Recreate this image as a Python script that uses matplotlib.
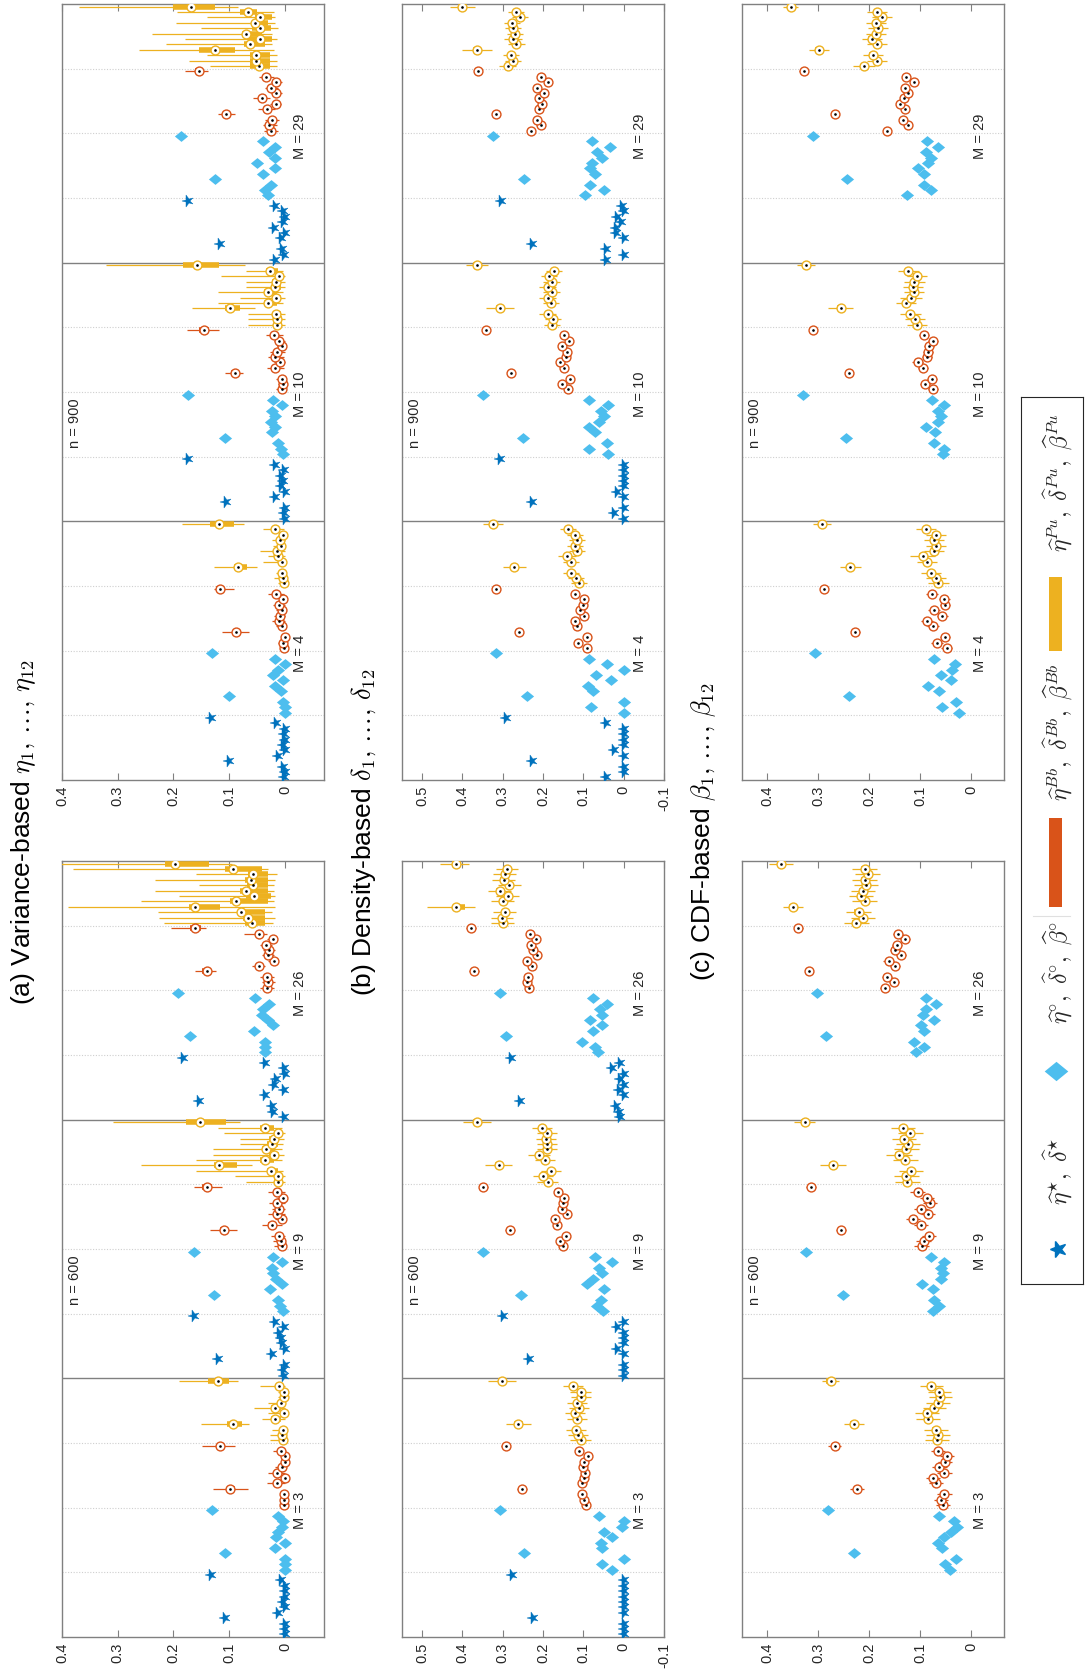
import numpy as np
import matplotlib
matplotlib.use('Agg')
import matplotlib.pyplot as plt
from matplotlib.markers import MarkerStyle
from matplotlib.path import Path
from matplotlib.transforms import Affine2D, blended_transform_factory
from matplotlib.patches import Rectangle

plt.rcParams['font.family'] = ['Liberation Sans', 'DejaVu Sans']
plt.rcParams['mathtext.fontset'] = 'cm'

# ---------------------------------------------------------------- data
# each panel: 12 items per estimator group; boxplot entries are
# (median, q1, q3, whisker_lo, whisker_hi) or (median, box_half, whisker_half)

# ---- (a) variance based, n = 600
var600_m3_star = [0.0, 0.0, 0.0, 0.108, 0.012, 0.0, 0.004, 0.0, 0.0, 0.0, 0.007, 0.132]
var600_m3_dia = [0.0, 0.0, 0.0, 0.108, 0.018, 0.0, 0.016, 0.012, 0.006, 0.003, 0.012, 0.131]
var600_m3_bb = [(0.001, 0.0, 0.003, 0.0, 0.006), (0.001, 0.0, 0.003, 0.0, 0.006), (0.001, 0.0, 0.003, 0.0, 0.006),
                (0.098, 0.090, 0.104, 0.066, 0.130), (0.015, 0.008, 0.020, 0.0, 0.032), (0.000, 0.0, 0.002, 0.0, 0.005),
                (0.015, 0.008, 0.020, 0.0, 0.030), (0.006, 0.002, 0.010, 0.0, 0.018), (0.000, 0.0, 0.002, 0.0, 0.005),
                (0.000, 0.0, 0.002, 0.0, 0.005), (0.008, 0.003, 0.012, 0.0, 0.021), (0.117, 0.110, 0.122, 0.090, 0.148)]
var600_m3_pu = [(0.004, 0.001, 0.008, 0.0, 0.027), (0.005, 0.001, 0.009, 0.0, 0.027), (0.004, 0.001, 0.008, 0.0, 0.024),
                (0.093, 0.077, 0.104, 0.065, 0.150), (0.018, 0.008, 0.025, 0.0, 0.042), (0.002, 0.0, 0.006, 0.0, 0.030),
                (0.018, 0.008, 0.025, 0.0, 0.055), (0.008, 0.002, 0.012, 0.0, 0.030), (0.001, 0.0, 0.004, 0.0, 0.012),
                (0.002, 0.0, 0.005, 0.0, 0.012), (0.011, 0.004, 0.016, 0.0, 0.044), (0.121, 0.101, 0.138, 0.084, 0.190)]

var600_m9_star = [0.001, 0.004, 0.0, 0.121, 0.024, 0.0, 0.006, 0.008, 0.011, 0.001, 0.018, 0.163]
var600_m9_dia = [0.003, 0.009, 0.012, 0.127, 0.027, 0.006, 0.017, 0.021, 0.024, 0.006, 0.021, 0.163]
var600_m9_bb = [(0.006, 0.002, 0.010, 0.0, 0.020), (0.008, 0.003, 0.012, 0.0, 0.022), (0.010, 0.004, 0.014, 0.0, 0.025),
                (0.110, 0.102, 0.116, 0.086, 0.134), (0.024, 0.016, 0.030, 0.005, 0.042), (0.006, 0.002, 0.010, 0.0, 0.018),
                (0.015, 0.008, 0.020, 0.0, 0.030), (0.010, 0.004, 0.014, 0.0, 0.024), (0.014, 0.007, 0.018, 0.0, 0.028),
                (0.004, 0.001, 0.008, 0.0, 0.014), (0.015, 0.008, 0.020, 0.0, 0.030), (0.140, 0.131, 0.148, 0.113, 0.164)]
var600_m9_pu = [(0.013, 0.005, 0.020, 0.0, 0.070), (0.012, 0.005, 0.020, 0.0, 0.090), (0.025, 0.012, 0.033, 0.003, 0.160),
                (0.119, 0.086, 0.128, 0.060, 0.259), (0.036, 0.020, 0.045, 0.005, 0.160), (0.019, 0.010, 0.028, 0.002, 0.130),
                (0.034, 0.018, 0.042, 0.005, 0.130), (0.024, 0.012, 0.032, 0.003, 0.080), (0.020, 0.010, 0.028, 0.002, 0.080),
                (0.013, 0.006, 0.020, 0.0, 0.110), (0.035, 0.020, 0.045, 0.005, 0.120), (0.152, 0.106, 0.177, 0.080, 0.309)]

var600_m26_star = [0.002, 0.021, 0.023, 0.154, 0.036, 0.002, 0.020, 0.017, 0.000, 0.001, 0.036, 0.183]
var600_m26_dia = [0.035, 0.036, 0.035, 0.170, 0.056, 0.021, 0.030, 0.042, 0.039, 0.029, 0.054, 0.192]
var600_m26_bb = [(0.032, 0.028, 0.036, 0.020, 0.045), (0.030, 0.026, 0.034, 0.018, 0.042), (0.032, 0.028, 0.036, 0.020, 0.045),
                 (0.140, 0.132, 0.148, 0.124, 0.162), (0.046, 0.042, 0.050, 0.035, 0.060), (0.020, 0.017, 0.024, 0.012, 0.030),
                 (0.030, 0.026, 0.034, 0.020, 0.042), (0.029, 0.025, 0.033, 0.018, 0.040), (0.034, 0.030, 0.038, 0.024, 0.045),
                 (0.022, 0.019, 0.026, 0.014, 0.032), (0.046, 0.040, 0.052, 0.032, 0.073), (0.161, 0.150, 0.170, 0.142, 0.204)]
var600_m26_pu = [(0.060, 0.035, 0.071, 0.021, 0.217), (0.067, 0.035, 0.075, 0.018, 0.226), (0.079, 0.035, 0.082, 0.024, 0.228),
                 (0.162, 0.116, 0.173, 0.018, 0.390), (0.088, 0.030, 0.098, 0.020, 0.259), (0.055, 0.025, 0.070, 0.018, 0.190),
                 (0.070, 0.030, 0.080, 0.020, 0.234), (0.058, 0.030, 0.068, 0.020, 0.155), (0.061, 0.030, 0.072, 0.018, 0.234),
                 (0.057, 0.030, 0.066, 0.015, 0.160), (0.093, 0.042, 0.107, 0.030, 0.381), (0.198, 0.137, 0.215, 0.095, 0.450)]

# ---- (a) variance based, n = 900
var900_m4_star = [0.001, 0.0, 0.004, 0.101, 0.012, 0.0, 0.003, 0.0, 0.001, 0.0, 0.017, 0.132]
var900_m4_dia = [0.0, 0.0, 0.004, 0.100, 0.008, 0.018, 0.004, 0.021, 0.012, 0.0, 0.018, 0.131]
var900_m4_bb = [(0.001, 0.0, 0.003, 0.0, 0.008), (0.003, 0.0, 0.006, 0.0, 0.012), (0.000, 0.0, 0.002, 0.0, 0.006),
                (0.088, 0.082, 0.094, 0.065, 0.113), (0.006, 0.002, 0.010, 0.0, 0.016), (0.011, 0.005, 0.015, 0.0, 0.024),
                (0.009, 0.004, 0.013, 0.0, 0.020), (0.006, 0.002, 0.010, 0.0, 0.016), (0.011, 0.005, 0.015, 0.0, 0.022),
                (0.003, 0.0, 0.006, 0.0, 0.010), (0.017, 0.010, 0.022, 0.002, 0.030), (0.117, 0.110, 0.124, 0.092, 0.128)]
var900_m4_pu = [(0.002, 0.0, 0.005, 0.0, 0.012), (0.004, 0.001, 0.008, 0.0, 0.020), (0.005, 0.001, 0.009, 0.0, 0.016),
                (0.085, 0.069, 0.092, 0.051, 0.128), (0.006, 0.002, 0.010, 0.0, 0.040), (0.012, 0.005, 0.017, 0.0, 0.030),
                (0.015, 0.007, 0.020, 0.0, 0.045), (0.007, 0.002, 0.011, 0.0, 0.022), (0.009, 0.003, 0.013, 0.0, 0.024),
                (0.003, 0.0, 0.006, 0.0, 0.012), (0.018, 0.010, 0.024, 0.002, 0.040), (0.119, 0.092, 0.134, 0.074, 0.184)]

var900_m10_star = [0.0, 0.001, 0.0, 0.105, 0.018, 0.0, 0.008, 0.003, 0.008, 0.001, 0.018, 0.174]
var900_m10_dia = [0.004, 0.008, 0.013, 0.108, 0.024, 0.018, 0.025, 0.018, 0.024, 0.006, 0.021, 0.174]
var900_m10_bb = [(0.006, 0.002, 0.010, 0.0, 0.016), (0.004, 0.001, 0.008, 0.0, 0.012), (0.006, 0.002, 0.010, 0.0, 0.016),
                 (0.090, 0.084, 0.097, 0.076, 0.107), (0.018, 0.011, 0.023, 0.002, 0.032), (0.009, 0.004, 0.013, 0.0, 0.020),
                 (0.018, 0.011, 0.023, 0.002, 0.030), (0.015, 0.009, 0.020, 0.0, 0.026), (0.006, 0.002, 0.010, 0.0, 0.015),
                 (0.010, 0.004, 0.014, 0.0, 0.020), (0.019, 0.012, 0.024, 0.003, 0.034), (0.146, 0.137, 0.155, 0.119, 0.176)]
var900_m10_pu = [(0.014, 0.006, 0.020, 0.0, 0.067), (0.015, 0.006, 0.021, 0.0, 0.067), (0.016, 0.007, 0.022, 0.0, 0.067),
                 (0.098, 0.080, 0.107, 0.054, 0.167), (0.031, 0.015, 0.038, 0.004, 0.120), (0.017, 0.008, 0.023, 0.0, 0.080),
                 (0.031, 0.015, 0.038, 0.004, 0.120), (0.018, 0.008, 0.024, 0.0, 0.070), (0.017, 0.008, 0.023, 0.0, 0.070),
                 (0.011, 0.004, 0.017, 0.0, 0.115), (0.027, 0.013, 0.034, 0.003, 0.070), (0.157, 0.118, 0.183, 0.071, 0.321)]

var900_m29_star = [0.018, 0.001, 0.006, 0.117, 0.007, 0.0, 0.020, 0.004, 0.0, 0.003, 0.018, 0.174]
var900_m29_dia = [0.030, 0.036, 0.025, 0.126, 0.039, 0.018, 0.051, 0.018, 0.029, 0.018, 0.039, 0.186]
var900_m29_bb = [(0.025, 0.020, 0.030, 0.012, 0.037), (0.028, 0.023, 0.033, 0.015, 0.040), (0.023, 0.018, 0.028, 0.010, 0.035),
                 (0.106, 0.100, 0.112, 0.089, 0.121), (0.033, 0.027, 0.038, 0.018, 0.048), (0.017, 0.013, 0.021, 0.007, 0.027),
                 (0.042, 0.036, 0.047, 0.026, 0.057), (0.016, 0.012, 0.020, 0.006, 0.025), (0.025, 0.020, 0.030, 0.012, 0.035),
                 (0.016, 0.012, 0.020, 0.006, 0.025), (0.034, 0.028, 0.039, 0.020, 0.046), (0.155, 0.148, 0.162, 0.138, 0.179)]
var900_m29_pu = [(0.046, 0.027, 0.062, 0.015, 0.134), (0.052, 0.027, 0.062, 0.015, 0.173), (0.052, 0.027, 0.062, 0.015, 0.140),
                 (0.125, 0.089, 0.154, 0.020, 0.262), (0.062, 0.036, 0.074, 0.024, 0.214), (0.045, 0.024, 0.065, 0.015, 0.180),
                 (0.070, 0.042, 0.077, 0.024, 0.238), (0.045, 0.025, 0.060, 0.013, 0.150), (0.054, 0.030, 0.060, 0.018, 0.196),
                 (0.044, 0.023, 0.054, 0.018, 0.140), (0.067, 0.050, 0.080, 0.019, 0.193), (0.168, 0.126, 0.201, 0.085, 0.370)]

# ---- (b) density based, n = 600
den600_m3_star = [0.0, 0.0, 0.0, 0.226, 0.0, 0.0, 0.0, 0.0, 0.0, 0.0, 0.0, 0.278]
den600_m3_dia = [0.028, 0.054, 0.0, 0.247, 0.054, 0.056, 0.030, 0.050, 0.005, 0.0, 0.061, 0.308]
den600_m3_bb = [(0.093, 0.004, 0.009), (0.098, 0.004, 0.009), (0.103, 0.004, 0.009), (0.252, 0.005, 0.012),
                (0.103, 0.004, 0.009), (0.099, 0.004, 0.009), (0.095, 0.004, 0.009), (0.101, 0.004, 0.009),
                (0.099, 0.004, 0.009), (0.089, 0.004, 0.009), (0.112, 0.004, 0.009), (0.293, 0.005, 0.012)]
den600_m3_pu = [(0.107, 0.008, 0.025), (0.113, 0.008, 0.025), (0.118, 0.008, 0.025), (0.261, 0.010, 0.030),
                (0.116, 0.008, 0.025), (0.121, 0.008, 0.025), (0.111, 0.008, 0.025), (0.116, 0.008, 0.025),
                (0.105, 0.008, 0.025), (0.107, 0.008, 0.025), (0.126, 0.008, 0.025), (0.302, 0.010, 0.035)]

den600_m9_star = [0.0, 0.0, 0.0, 0.234, 0.0, 0.017, 0.0, 0.0, 0.0, 0.017, 0.0, 0.300]
den600_m9_dia = [0.052, 0.065, 0.057, 0.254, 0.050, 0.090, 0.077, 0.054, 0.061, 0.030, 0.070, 0.349]
den600_m9_bb = [(0.151, 0.004, 0.009), (0.157, 0.004, 0.009), (0.144, 0.004, 0.009), (0.282, 0.005, 0.012),
                (0.165, 0.004, 0.009), (0.170, 0.004, 0.009), (0.140, 0.004, 0.009), (0.154, 0.004, 0.009),
                (0.151, 0.004, 0.009), (0.148, 0.004, 0.009), (0.162, 0.004, 0.009), (0.348, 0.005, 0.012)]
den600_m9_pu = [(0.189, 0.008, 0.025), (0.200, 0.008, 0.025), (0.181, 0.008, 0.025), (0.310, 0.010, 0.033),
                (0.195, 0.008, 0.025), (0.210, 0.008, 0.028), (0.190, 0.008, 0.025), (0.190, 0.008, 0.025),
                (0.193, 0.008, 0.025), (0.190, 0.008, 0.025), (0.203, 0.008, 0.025), (0.364, 0.010, 0.035)]

den600_m26_star = [0.008, 0.011, 0.020, 0.257, 0.0, 0.011, 0.0, 0.008, 0.0, 0.028, 0.008, 0.280]
den600_m26_dia = [0.064, 0.072, 0.103, 0.292, 0.075, 0.054, 0.083, 0.054, 0.060, 0.041, 0.075, 0.306]
den600_m26_bb = [(0.236, 0.004, 0.009), (0.240, 0.004, 0.009), (0.238, 0.004, 0.009), (0.371, 0.005, 0.012),
                 (0.228, 0.004, 0.009), (0.241, 0.004, 0.009), (0.214, 0.004, 0.009), (0.226, 0.004, 0.009),
                 (0.230, 0.004, 0.009), (0.218, 0.004, 0.009), (0.233, 0.004, 0.009), (0.378, 0.005, 0.012)]
den600_m26_pu = [(0.300, 0.008, 0.028), (0.302, 0.008, 0.028), (0.295, 0.008, 0.028), (0.416, 0.394, 0.422, 0.370, 0.489),
                 (0.300, 0.008, 0.028), (0.288, 0.008, 0.028), (0.308, 0.008, 0.028), (0.284, 0.008, 0.028),
                 (0.298, 0.008, 0.028), (0.295, 0.008, 0.028), (0.290, 0.008, 0.028), (0.415, 0.405, 0.425, 0.385, 0.455)]

# ---- (b) density based, n = 900
den900_m4_star = [0.043, 0.0, 0.0, 0.228, 0.0, 0.025, 0.0, 0.0, 0.0, 0.0, 0.043, 0.292]
den900_m4_dia = [0.0, 0.080, 0.0, 0.239, 0.075, 0.089, 0.031, 0.069, 0.0, 0.042, 0.087, 0.318]
den900_m4_bb = [(0.090, 0.004, 0.008), (0.113, 0.004, 0.008), (0.091, 0.004, 0.008), (0.259, 0.005, 0.010),
                (0.116, 0.004, 0.008), (0.120, 0.004, 0.008), (0.098, 0.004, 0.008), (0.109, 0.004, 0.008),
                (0.102, 0.004, 0.008), (0.099, 0.004, 0.008), (0.120, 0.004, 0.008), (0.316, 0.005, 0.010)]
den900_m4_pu = [(0.111, 0.007, 0.020), (0.118, 0.007, 0.020), (0.130, 0.007, 0.020), (0.271, 0.009, 0.028),
                (0.130, 0.007, 0.020), (0.140, 0.007, 0.022), (0.116, 0.007, 0.020), (0.120, 0.007, 0.020),
                (0.116, 0.007, 0.020), (0.120, 0.007, 0.020), (0.138, 0.007, 0.020), (0.325, 0.009, 0.025)]

den900_m10_star = [0.0, 0.024, 0.0, 0.228, 0.0, 0.017, 0.0, 0.0, 0.0, 0.0, 0.0, 0.308]
den900_m10_dia = [0.039, 0.087, 0.042, 0.251, 0.070, 0.087, 0.062, 0.050, 0.056, 0.038, 0.087, 0.349]
den900_m10_bb = [(0.138, 0.004, 0.008), (0.152, 0.004, 0.008), (0.134, 0.004, 0.008), (0.280, 0.005, 0.010),
                 (0.148, 0.004, 0.008), (0.157, 0.004, 0.008), (0.143, 0.004, 0.008), (0.140, 0.004, 0.008),
                 (0.152, 0.004, 0.008), (0.136, 0.004, 0.008), (0.148, 0.004, 0.008), (0.341, 0.005, 0.010)]
den900_m10_pu = [(0.177, 0.007, 0.020), (0.175, 0.007, 0.020), (0.189, 0.007, 0.020), (0.307, 0.009, 0.035),
                 (0.181, 0.007, 0.020), (0.189, 0.007, 0.022), (0.179, 0.007, 0.020), (0.189, 0.007, 0.020),
                 (0.179, 0.007, 0.020), (0.185, 0.007, 0.020), (0.173, 0.007, 0.020), (0.364, 0.009, 0.028)]

den900_m29_star = [0.043, 0.0, 0.043, 0.228, 0.0, 0.020, 0.020, 0.007, 0.017, 0.0, 0.005, 0.304]
den900_m29_dia = [0.095, 0.050, 0.083, 0.247, 0.072, 0.083, 0.079, 0.054, 0.066, 0.034, 0.079, 0.323]
den900_m29_bb = [(0.231, 0.004, 0.008), (0.206, 0.004, 0.008), (0.216, 0.004, 0.008), (0.316, 0.005, 0.010),
                 (0.211, 0.004, 0.008), (0.203, 0.004, 0.008), (0.211, 0.004, 0.008), (0.198, 0.004, 0.008),
                 (0.214, 0.004, 0.008), (0.189, 0.004, 0.008), (0.204, 0.004, 0.008), (0.361, 0.005, 0.010)]
den900_m29_pu = [(0.288, 0.007, 0.022), (0.275, 0.007, 0.020), (0.280, 0.007, 0.020), (0.364, 0.009, 0.038),
                 (0.266, 0.007, 0.020), (0.275, 0.007, 0.022), (0.270, 0.007, 0.020), (0.274, 0.007, 0.020),
                 (0.277, 0.007, 0.020), (0.257, 0.007, 0.020), (0.267, 0.007, 0.020), (0.400, 0.009, 0.030)]

# ---- (c) CDF based, n = 600 (no star estimator)
cdf600_m3_dia = [0.042, 0.051, 0.029, 0.230, 0.056, 0.065, 0.052, 0.039, 0.027, 0.033, 0.062, 0.280]
cdf600_m3_bb = [(0.055, 0.005, 0.014), (0.059, 0.005, 0.014), (0.052, 0.005, 0.014), (0.224, 0.005, 0.014),
                (0.069, 0.005, 0.014), (0.075, 0.005, 0.014), (0.052, 0.005, 0.014), (0.062, 0.005, 0.014),
                (0.051, 0.005, 0.014), (0.047, 0.005, 0.014), (0.065, 0.005, 0.014), (0.268, 0.005, 0.012)]
cdf600_m3_pu = [(0.067, 0.008, 0.023), (0.065, 0.008, 0.023), (0.069, 0.008, 0.023), (0.230, 0.008, 0.020),
                (0.084, 0.008, 0.023), (0.086, 0.008, 0.023), (0.072, 0.008, 0.023), (0.065, 0.008, 0.023),
                (0.060, 0.008, 0.023), (0.062, 0.008, 0.023), (0.078, 0.008, 0.023), (0.276, 0.008, 0.017)]

cdf600_m9_dia = [0.075, 0.062, 0.072, 0.252, 0.075, 0.097, 0.059, 0.054, 0.059, 0.052, 0.078, 0.325]
cdf600_m9_bb = [(0.097, 0.005, 0.014), (0.093, 0.005, 0.014), (0.082, 0.005, 0.014), (0.256, 0.005, 0.010),
                (0.098, 0.005, 0.014), (0.114, 0.005, 0.014), (0.084, 0.005, 0.014), (0.098, 0.005, 0.014),
                (0.080, 0.005, 0.014), (0.086, 0.005, 0.014), (0.105, 0.005, 0.014), (0.314, 0.005, 0.010)]
cdf600_m9_pu = [(0.125, 0.008, 0.024), (0.127, 0.008, 0.024), (0.118, 0.008, 0.024), (0.271, 0.008, 0.026),
                (0.129, 0.008, 0.024), (0.141, 0.008, 0.026), (0.127, 0.008, 0.024), (0.124, 0.008, 0.024),
                (0.131, 0.008, 0.024), (0.119, 0.008, 0.024), (0.134, 0.008, 0.024), (0.327, 0.008, 0.020)]

cdf600_m26_dia = [0.108, 0.092, 0.111, 0.284, 0.092, 0.098, 0.073, 0.095, 0.088, 0.069, 0.088, 0.302]
cdf600_m26_bb = [(0.169, 0.005, 0.010), (0.152, 0.005, 0.010), (0.165, 0.005, 0.010), (0.319, 0.005, 0.008),
                 (0.150, 0.005, 0.010), (0.162, 0.005, 0.010), (0.137, 0.005, 0.010), (0.150, 0.005, 0.010),
                 (0.145, 0.005, 0.010), (0.129, 0.005, 0.010), (0.144, 0.005, 0.010), (0.339, 0.005, 0.008)]
cdf600_m26_pu = [(0.225, 0.008, 0.024), (0.212, 0.008, 0.024), (0.221, 0.008, 0.024), (0.350, 0.008, 0.020),
                 (0.209, 0.008, 0.024), (0.216, 0.008, 0.024), (0.212, 0.008, 0.024), (0.206, 0.008, 0.024),
                 (0.209, 0.008, 0.024), (0.203, 0.008, 0.024), (0.209, 0.008, 0.024), (0.373, 0.008, 0.024)]

# ---- (c) CDF based, n = 900
cdf900_m4_dia = [0.023, 0.057, 0.029, 0.239, 0.062, 0.084, 0.039, 0.059, 0.038, 0.031, 0.073, 0.306]
cdf900_m4_bb = [(0.048, 0.004, 0.010), (0.067, 0.004, 0.012), (0.051, 0.004, 0.010), (0.227, 0.004, 0.008),
                (0.075, 0.004, 0.012), (0.086, 0.004, 0.012), (0.056, 0.004, 0.010), (0.072, 0.004, 0.012),
                (0.051, 0.004, 0.010), (0.052, 0.004, 0.010), (0.077, 0.004, 0.012), (0.288, 0.004, 0.008)]
cdf900_m4_pu = [(0.064, 0.007, 0.020), (0.069, 0.007, 0.020), (0.078, 0.007, 0.020), (0.237, 0.007, 0.020),
                (0.086, 0.007, 0.020), (0.095, 0.007, 0.024), (0.072, 0.007, 0.020), (0.069, 0.007, 0.020),
                (0.073, 0.007, 0.020), (0.069, 0.007, 0.020), (0.088, 0.007, 0.020), (0.293, 0.007, 0.018)]

cdf900_m10_dia = [0.054, 0.052, 0.073, 0.245, 0.071, 0.088, 0.065, 0.059, 0.064, 0.052, 0.077, 0.330]
cdf900_m10_bb = [(0.075, 0.004, 0.010), (0.090, 0.004, 0.010), (0.077, 0.004, 0.010), (0.239, 0.004, 0.008),
                 (0.095, 0.004, 0.010), (0.105, 0.004, 0.010), (0.086, 0.004, 0.010), (0.084, 0.004, 0.010),
                 (0.082, 0.004, 0.010), (0.075, 0.004, 0.010), (0.092, 0.004, 0.010), (0.310, 0.004, 0.008)]
cdf900_m10_pu = [(0.106, 0.007, 0.020), (0.110, 0.007, 0.020), (0.119, 0.007, 0.020), (0.256, 0.007, 0.024),
                 (0.127, 0.007, 0.020), (0.118, 0.007, 0.022), (0.112, 0.007, 0.020), (0.114, 0.007, 0.020),
                 (0.111, 0.007, 0.020), (0.106, 0.007, 0.020), (0.123, 0.007, 0.020), (0.324, 0.007, 0.018)]

cdf900_m29_dia = [0.125, 0.078, 0.092, 0.243, 0.093, 0.105, 0.085, 0.078, 0.088, 0.065, 0.086, 0.310]
cdf900_m29_bb = [(0.165, 0.004, 0.008), (0.124, 0.004, 0.008), (0.134, 0.004, 0.008), (0.268, 0.004, 0.008),
                 (0.129, 0.004, 0.008), (0.139, 0.004, 0.008), (0.131, 0.004, 0.008), (0.123, 0.004, 0.008),
                 (0.129, 0.004, 0.008), (0.111, 0.004, 0.008), (0.127, 0.004, 0.008), (0.329, 0.004, 0.008)]
cdf900_m29_pu = [(0.210, 0.007, 0.022), (0.184, 0.007, 0.020), (0.193, 0.007, 0.020), (0.299, 0.007, 0.020),
                 (0.184, 0.007, 0.020), (0.195, 0.007, 0.020), (0.186, 0.007, 0.020), (0.183, 0.007, 0.020),
                 (0.186, 0.007, 0.020), (0.175, 0.007, 0.020), (0.184, 0.007, 0.020), (0.354, 0.007, 0.015)]

m_labels_600 = ['M = 3', 'M = 9', 'M = 26']
m_labels_900 = ['M = 4', 'M = 10', 'M = 29']
n_labels = ['n = 600', 'n = 900']
titles = [r'(a) Variance-based $\eta_1,\,\ldots,\,\eta_{12}$',
          r'(b) Density-based $\delta_1,\,\ldots,\,\delta_{12}$',
          r'(c) CDF-based $\beta_1,\,\ldots,\,\beta_{12}$']
legend_labels = [r'$\widehat{\eta}^{\star},\ \widehat{\delta}^{\star}$',
                 r'$\widehat{\eta}^{\circ},\ \widehat{\delta}^{\circ},\ \widehat{\beta}^{\circ}$',
                 r'$\widehat{\eta}^{Bb},\ \widehat{\delta}^{Bb},\ \widehat{\beta}^{Bb}$',
                 r'$\widehat{\eta}^{Pu},\ \widehat{\delta}^{Pu},\ \widehat{\beta}^{Pu}$']

ticks_a = [0, 0.1, 0.2, 0.3, 0.4]
ticks_b = [-0.1, 0, 0.1, 0.2, 0.3, 0.4, 0.5]
ticks_c = [0, 0.1, 0.2, 0.3, 0.4]
xlim_a = (0.4, -0.07)
xlim_b = (0.55, -0.1)
xlim_c = (0.45, -0.065)

# ---------------------------------------------------------------- style
C_STAR = '#0072BD'
C_DIA = '#4DBEEE'
C_BB = '#D95319'
C_PU = '#EDB120'
C_AX = '#808080'
C_TXT = '#262626'

W, H = 1085, 1675
fig = plt.figure(figsize=(W / 100, H / 100), dpi=100)

star_marker = MarkerStyle('*', transform=Affine2D().rotate_deg(90))
dia_path = Path([(-1.0, 0.0), (0.0, 0.82), (1.0, 0.0), (0.0, -0.82), (-1.0, 0.0)],
                [Path.MOVETO, Path.LINETO, Path.LINETO, Path.LINETO, Path.CLOSEPOLY])
dia_marker = MarkerStyle(dia_path)


def stats(entry):
    if len(entry) == 3:
        m, bh, wh = entry
        return m, m - bh, m + bh, m - wh, m + wh
    return entry


def draw_box(ax, ypos, entries, color):
    st = np.array([stats(e) for e in entries])
    ax.hlines(ypos, st[:, 3], st[:, 4], colors=color, lw=0.9, zorder=3)
    ax.hlines(ypos, st[:, 1], st[:, 2], colors=color, lw=4.0, zorder=4)
    ax.plot(st[:, 0], ypos, 'o', ms=6.4, mfc='white', mec=color, mew=1.0, ls='none', zorder=5)
    ax.plot(st[:, 0], ypos, 'o', ms=1.9, mfc='k', mec='k', mew=0, ls='none', zorder=6)


def make_axes(left_px, top_px, xlim, ticks, panels, mlabels, nlabel):
    ax = fig.add_axes([left_px / W, 1 - (top_px + 776) / H, 262 / W, 776 / H])
    items = np.arange(1, 13)
    trans = blended_transform_factory(ax.transAxes, ax.transData)
    for p, (star, dia, bb, pu) in enumerate(panels):
        base = p * 48
        if star is not None:
            ax.plot(star, base + items, ls='none', marker=star_marker, ms=8.5,
                    color=C_STAR, mec=C_STAR, mew=0.3, zorder=4)
        ax.plot(dia, base + 12 + items, ls='none', marker=dia_marker, ms=9.5,
                color=C_DIA, mec=C_DIA, mew=0, zorder=4)
        draw_box(ax, base + 24 + items, bb, C_BB)
        draw_box(ax, base + 36 + items, pu, C_PU)
        for g in (1, 2, 3):
            ax.axhline(base + 12 * g + 0.5, color='#cfcfcf', lw=0.8, ls=(0, (1, 1.5)), zorder=1)
        if p > 0:
            ax.axhline(base + 0.5, color=C_AX, lw=1.0, zorder=2)
        ax.text(0.91, base + 24, mlabels[p], transform=trans, rotation=90, ha='center', va='center',
                fontsize=10.5, color=C_TXT)
    ax.text(0.05, 66.7, nlabel, transform=trans, rotation=90, ha='center', va='center',
            fontsize=10.5, color=C_TXT)
    ax.set_xlim(*xlim)
    ax.set_ylim(0.5, 144.5)
    ax.set_yticks([])
    ax.set_xticks(ticks)
    ax.set_xticklabels([('%g' % t) for t in ticks], rotation=90, color=C_TXT, fontsize=10.5)
    ax.tick_params(axis='x', direction='in', top=True, bottom=True, length=5, width=0.8,
                   color=C_AX, pad=4)
    for s in ax.spines.values():
        s.set_color(C_AX)
        s.set_linewidth(1.0)
    return ax


cols_left = [62, 402, 742]
top_900, top_600 = 4, 861

make_axes(cols_left[0], top_600, xlim_a, ticks_a,
          [(var600_m3_star, var600_m3_dia, var600_m3_bb, var600_m3_pu),
           (var600_m9_star, var600_m9_dia, var600_m9_bb, var600_m9_pu),
           (var600_m26_star, var600_m26_dia, var600_m26_bb, var600_m26_pu)], m_labels_600, n_labels[0])
make_axes(cols_left[0], top_900, xlim_a, ticks_a,
          [(var900_m4_star, var900_m4_dia, var900_m4_bb, var900_m4_pu),
           (var900_m10_star, var900_m10_dia, var900_m10_bb, var900_m10_pu),
           (var900_m29_star, var900_m29_dia, var900_m29_bb, var900_m29_pu)], m_labels_900, n_labels[1])
make_axes(cols_left[1], top_600, xlim_b, ticks_b,
          [(den600_m3_star, den600_m3_dia, den600_m3_bb, den600_m3_pu),
           (den600_m9_star, den600_m9_dia, den600_m9_bb, den600_m9_pu),
           (den600_m26_star, den600_m26_dia, den600_m26_bb, den600_m26_pu)], m_labels_600, n_labels[0])
make_axes(cols_left[1], top_900, xlim_b, ticks_b,
          [(den900_m4_star, den900_m4_dia, den900_m4_bb, den900_m4_pu),
           (den900_m10_star, den900_m10_dia, den900_m10_bb, den900_m10_pu),
           (den900_m29_star, den900_m29_dia, den900_m29_bb, den900_m29_pu)], m_labels_900, n_labels[1])
make_axes(cols_left[2], top_600, xlim_c, ticks_c,
          [(None, cdf600_m3_dia, cdf600_m3_bb, cdf600_m3_pu),
           (None, cdf600_m9_dia, cdf600_m9_bb, cdf600_m9_pu),
           (None, cdf600_m26_dia, cdf600_m26_bb, cdf600_m26_pu)], m_labels_600, n_labels[0])
make_axes(cols_left[2], top_900, xlim_c, ticks_c,
          [(None, cdf900_m4_dia, cdf900_m4_bb, cdf900_m4_pu),
           (None, cdf900_m10_dia, cdf900_m10_bb, cdf900_m10_pu),
           (None, cdf900_m29_dia, cdf900_m29_bb, cdf900_m29_pu)], m_labels_900, n_labels[1])

# titles (to the left of each column)
title_x = [24, 364, 704]
for tx, t in zip(title_x, titles):
    fig.text(tx / W, 1 - 832 / H, t, rotation=90, ha='center', va='center', fontsize=19, color='k')

# legend box
lg = fig.add_axes([1021 / W, 1 - 1284 / H, 62 / W, 887 / H])
lg.set_xlim(0, 1)
lg.set_ylim(0, 1)
lg.set_xticks([])
lg.set_yticks([])
for s in lg.spines.values():
    s.set_color('#262626')
    s.set_linewidth(0.8)
lg.plot([0.6], [0.039], ls='none', marker=star_marker, ms=12, color=C_STAR)
lg.plot([0.56], [0.240], ls='none', marker=dia_marker, ms=17, color=C_DIA, mew=0)
lg.plot([0.19, 0.79], [0.415, 0.415], color='#e0e0e0', lw=0.8)
lg.add_patch(Rectangle((0.45, 0.425), 0.21, 0.10, color=C_BB, lw=0))
lg.add_patch(Rectangle((0.45, 0.714), 0.21, 0.083, color=C_PU, lw=0))
for yy, lab in zip([0.127, 0.351, 0.622, 0.904], legend_labels):
    lg.text(0.61, yy, lab, rotation=90, ha='center', va='center', fontsize=17, color=C_TXT)

fig.savefig('out.png', dpi=100)
